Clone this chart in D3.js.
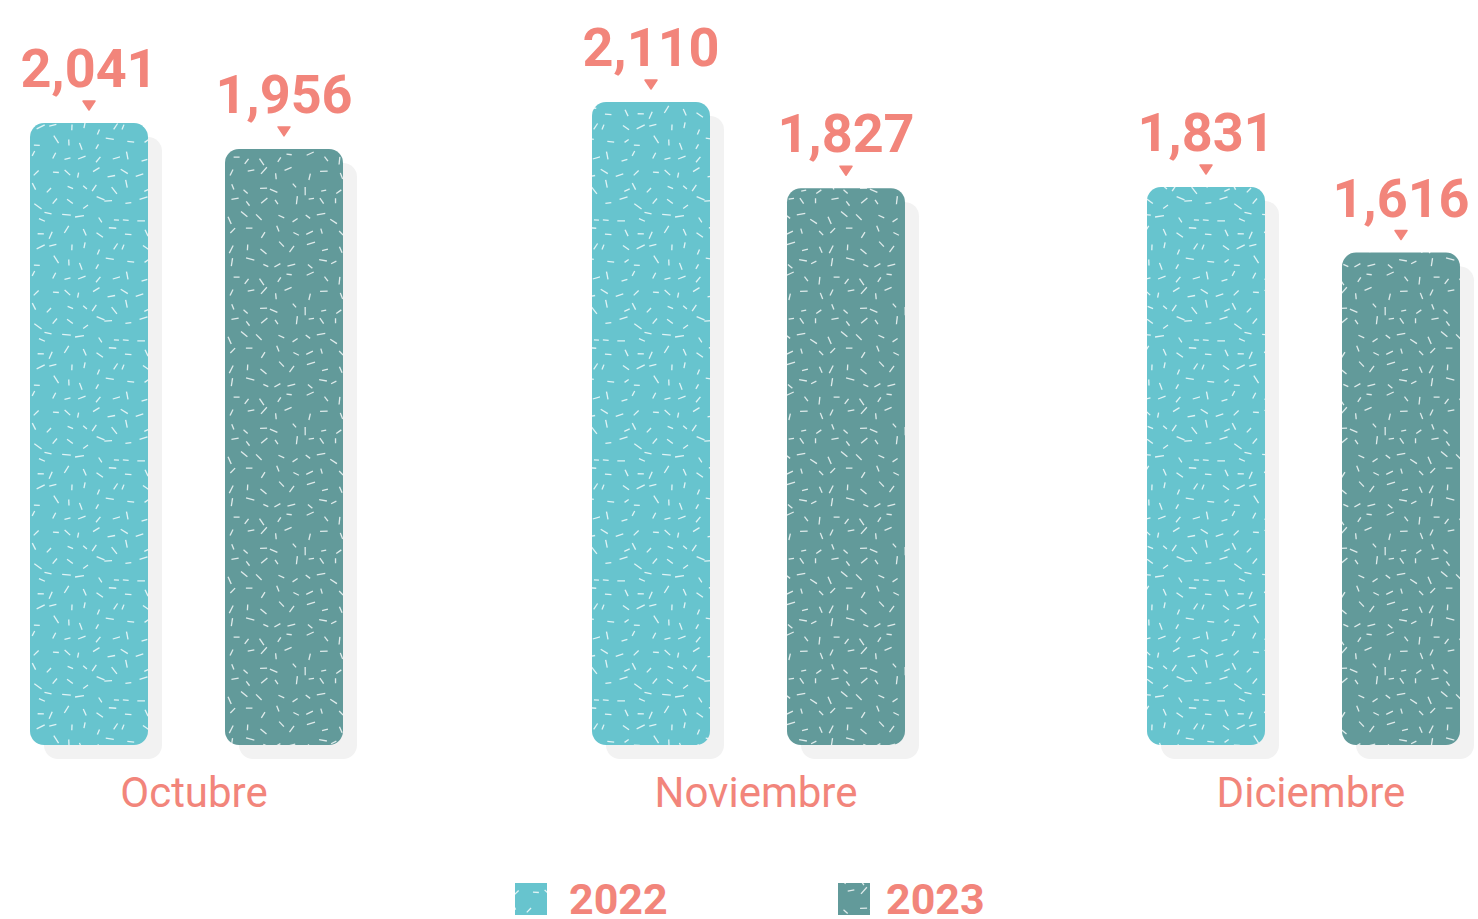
<!DOCTYPE html>
<html>
<head>
<meta charset="utf-8">
<script src="https://cdn.jsdelivr.net/npm/d3@7"></script>
<style>
	body { margin: 0; background: #ffffff; }
	svg { display: block; }
</style>
</head>
<body>
<div id="chart"></div>
<script>
"use strict"

// data
var months = ["Octubre", "Noviembre", "Diciembre"];
var years = ["2022", "2023"];
var values2022 = [2041, 2110, 1831];
var values2023 = [1956, 1827, 1616];

var W = 1478, H = 919;
var baseY = 745;
var barW = 118;
var labelColor = "#F2857B";
var colors = {"2022": "#67C4CE", "2023": "#629A9A"};

var svg = d3.select("#chart").append("svg")
	.attr("width", W)
	.attr("height", H);

// deterministic speckle texture (decoration only)
var seed = 11;
function rnd() {
	seed = (seed * 16807) % 2147483647;
	return (seed - 1) / 2147483646;
}

var defs = svg.append("defs");
years.forEach(function(y) {
	var tile = 120, cell = 15;
	var p = defs.append("pattern")
		.attr("id", "pat" + y)
		.attr("patternUnits", "userSpaceOnUse")
		.attr("width", tile)
		.attr("height", tile);
	p.append("rect")
		.attr("width", tile)
		.attr("height", tile)
		.attr("fill", colors[y]);
	// jittered grid keeps the dashes evenly spread
	for (var gx = 0; gx < tile; gx += cell) {
		for (var gy = 0; gy < tile; gy += cell) {
			var cx = gx + 3 + rnd() * (cell - 6), cy = gy + 3 + rnd() * (cell - 6);
			var a = rnd() * Math.PI * 2;
			var len = 5 + rnd() * 4;
			p.append("line")
				.attr("x1", cx - Math.cos(a) * len / 2)
				.attr("y1", cy - Math.sin(a) * len / 2)
				.attr("x2", cx + Math.cos(a) * len / 2)
				.attr("y2", cy + Math.sin(a) * len / 2)
				.attr("stroke", "#ffffff")
				.attr("stroke-opacity", 0.8)
				.attr("stroke-width", 1.3)
				.attr("stroke-linecap", "butt");
		}
	}
});

var x0 = d3.scaleOrdinal()
	.domain(months)
	.range([30, 592, 1147]);

var x1 = d3.scaleOrdinal()
	.domain(years)
	.range([0, 195]);

var y = d3.scaleLinear()
	.domain([0, 2110])
	.range([baseY, 102]);

var rows = [];
months.forEach(function(m, i) {
	rows.push({month: m, year: "2022", value: values2022[i]});
	rows.push({month: m, year: "2023", value: values2023[i]});
});

var g = svg.append("g");

// shadows
g.selectAll("rect.shadow")
	.data(rows)
	.enter().append("rect")
	.attr("class", "shadow")
	.attr("x", function(d) { return x0(d.month) + x1(d.year) + 14; })
	.attr("y", function(d) { return y(d.value) + 14; })
	.attr("width", barW)
	.attr("height", function(d) { return baseY - y(d.value); })
	.attr("rx", 14)
	.attr("ry", 14)
	.attr("fill", "#F2F2F2");

// bars
g.selectAll("rect.bar")
	.data(rows)
	.enter().append("rect")
	.attr("class", "bar")
	.attr("x", function(d) { return x0(d.month) + x1(d.year); })
	.attr("y", function(d) { return y(d.value); })
	.attr("width", barW)
	.attr("height", function(d) { return baseY - y(d.value); })
	.attr("rx", 14)
	.attr("ry", 14)
	.attr("fill", function(d) { return "url(#pat" + d.year + ")"; });

// markers
g.selectAll("path.marker")
	.data(rows)
	.enter().append("path")
	.attr("class", "marker")
	.attr("d", function(d) {
		var cx = x0(d.month) + x1(d.year) + barW / 2;
		var t = y(d.value) - 22;
		return "M" + (cx - 6) + "," + t + "L" + (cx + 6) + "," + t + "L" + cx + "," + (t + 9) + "Z";
	})
	.attr("fill", labelColor)
	.attr("stroke", labelColor)
	.attr("stroke-width", 1.5)
	.attr("stroke-linejoin", "round");

// value labels
var fmt = d3.format(",");
g.selectAll("text.value")
	.data(rows)
	.enter().append("text")
	.attr("class", "value")
	.attr("x", function(d) { return x0(d.month) + x1(d.year) + barW / 2; })
	.attr("y", function(d) { return y(d.value) - 36; })
	.attr("text-anchor", "middle")
	.style("font-family", "Roboto")
	.style("font-weight", "bold")
	.style("font-size", "54px")
	.attr("fill", labelColor)
	.text(function(d) { return fmt(d.value); });

// month labels
g.selectAll("text.month")
	.data(months)
	.enter().append("text")
	.attr("class", "month")
	.attr("x", function(d) { return x0(d) + 164; })
	.attr("y", 807)
	.attr("text-anchor", "middle")
	.style("font-family", "Roboto")
	.style("font-size", "42px")
	.attr("fill", labelColor)
	.text(function(d) { return d; });

// legend
var legendX = d3.scaleOrdinal()
	.domain(years)
	.range([515, 838]);
var legendTextX = d3.scaleOrdinal()
	.domain(years)
	.range([569, 886]);

var lg = svg.append("g");
lg.selectAll("rect")
	.data(years)
	.enter().append("rect")
	.attr("x", function(d) { return legendX(d); })
	.attr("y", 883)
	.attr("width", 32)
	.attr("height", 32)
	.attr("fill", function(d) { return "url(#pat" + d + ")"; });
lg.selectAll("text")
	.data(years)
	.enter().append("text")
	.attr("x", function(d) { return legendTextX(d); })
	.attr("y", 914)
	.style("font-family", "Roboto")
	.style("font-weight", "bold")
	.style("font-size", "43px")
	.attr("fill", labelColor)
	.text(function(d) { return d; });
</script>
</body>
</html>
